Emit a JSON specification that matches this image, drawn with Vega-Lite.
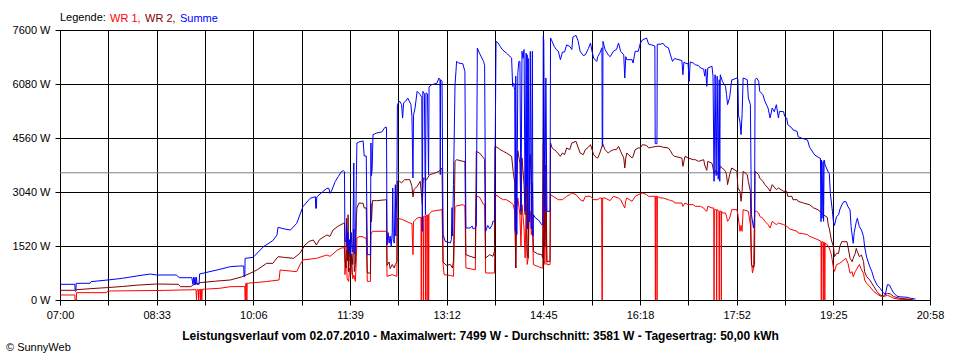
{
"$schema":"https://vega.github.io/schema/vega-lite/v6.json",
"width":870,"height":270,
"autosize":{"type":"none"},
"padding":{"left":60,"top":30,"right":30,"bottom":60},
"background":"white",
"config":{"view":{"stroke":"black","strokeWidth":1},"font":"Liberation Sans"},
"title":{"text":"© SunnyWeb","orient":"bottom","anchor":"start","frame":"group","dx":-54,"offset":1,"fontSize":11,"fontWeight":"normal","font":"Liberation Sans","color":"black"},
"datasets":{
"avg":[{"t":0,"w":3581},{"t":838,"w":3581}],
"wr1":[{"t":0,"w":141},{"t":14.3,"w":141},{"t":14.5,"w":0},{"t":15.7,"w":0},{"t":16,"w":207},{"t":45,"w":207},{"t":46,"w":253},{"t":100,"w":270},{"t":115,"w":281},{"t":131,"w":290},{"t":131.5,"w":0},{"t":132,"w":290},{"t":133.3,"w":290},{"t":133.6,"w":0},{"t":134,"w":290},{"t":135,"w":300},{"t":135.3,"w":0},{"t":135.6,"w":300},{"t":136.3,"w":300},{"t":136.6,"w":0},{"t":137,"w":300},{"t":154,"w":330},{"t":164,"w":375},{"t":178,"w":380},{"t":178.3,"w":0},{"t":178.6,"w":0},{"t":178.9,"w":470},{"t":179.7,"w":470},{"t":180,"w":0},{"t":180.3,"w":470},{"t":199,"w":520},{"t":211,"w":563},{"t":212,"w":844},{"t":228,"w":797},{"t":231,"w":985},{"t":234,"w":1126},{"t":247,"w":1173},{"t":257,"w":1267},{"t":260,"w":1229},{"t":263,"w":1300},{"t":267,"w":1400},{"t":271,"w":1464},{"t":274,"w":1470},
{"t":274.5,"w":713},{"t":276,"w":1400},{"t":276.5,"w":600},{"t":278,"w":525},{"t":279,"w":900},{"t":280,"w":713},{"t":281,"w":1200},{"t":282,"w":600},{"t":283,"w":700},{"t":284.5,"w":525},{"t":285.5,"w":1200},{"t":286,"w":1745},{"t":288,"w":1783},{"t":292,"w":1783},{"t":293,"w":1745},{"t":295,"w":1745},{"t":296,"w":525},{"t":299,"w":525},{"t":299.5,"w":1850},{"t":301,"w":1933},{"t":313,"w":1933},{"t":314.5,"w":1933},{"t":315,"w":666},{"t":320,"w":713},{"t":324.5,"w":666},{"t":325,"w":2308},{"t":330,"w":2262},{"t":337,"w":2168},{"t":339,"w":2150},{"t":340,"w":1276},{"t":340.5,"w":2200},{"t":344,"w":2308},{"t":347.7,"w":2330},{"t":348,"w":0},{"t":348.3,"w":2330},{"t":349.7,"w":2350},{"t":350,"w":0},{"t":350.3,"w":2350},{"t":351.7,"w":2370},{"t":352,"w":0},{"t":352.3,"w":2370},{"t":353.3,"w":2390},{"t":353.6,"w":0},{"t":353.9,"w":2390},{"t":354.8,"w":2402},{"t":355.1,"w":0},{"t":355.4,"w":2402},{"t":358,"w":2496},{"t":368,"w":2543},{"t":369,"w":994},{"t":370,"w":713},{"t":376,"w":690},{"t":379,"w":666},{"t":380.5,"w":2600},{"t":382,"w":2650},{"t":388,"w":2684},{"t":390,"w":2650},{"t":391,"w":901},{"t":395,"w":880},{"t":400,"w":850},{"t":401,"w":2918},{"t":404,"w":2900},{"t":408,"w":2683},{"t":409,"w":2683},{"t":410,"w":760},{"t":418.5,"w":760},{"t":419,"w":2965},{"t":422,"w":2918},
{"t":424,"w":2871},{"t":427,"w":2824},{"t":430,"w":2824},{"t":435,"w":2730},{"t":436.5,"w":2684},{"t":438,"w":2500},{"t":439,"w":901},{"t":440,"w":2600},{"t":441,"w":2871},{"t":443,"w":2402},{"t":444,"w":1500},{"t":445,"w":2684},{"t":447,"w":2027},{"t":448,"w":1182},{"t":449,"w":2700},{"t":450,"w":1000},{"t":451,"w":1182},{"t":452,"w":2500},{"t":453,"w":2500},{"t":454,"w":1839},{"t":455,"w":2100},{"t":456,"w":995},{"t":460,"w":950},{"t":464,"w":901},{"t":465,"w":901},{"t":465.5,"w":2965},{"t":466,"w":2700},{"t":467,"w":1000},{"t":468,"w":2600},{"t":469,"w":995},{"t":472,"w":995},{"t":472.5,"w":2965},{"t":475,"w":2918},{"t":480,"w":2824},{"t":484,"w":2824},{"t":486,"w":2871},{"t":488,"w":2918},{"t":491,"w":2965},{"t":493,"w":3012},{"t":497,"w":2965},{"t":499,"w":2900},{"t":501,"w":2824},{"t":504,"w":2778},{"t":506,"w":2918},{"t":511,"w":2918},{"t":514,"w":2824},{"t":518,"w":2824},{"t":520,"w":2871},{"t":521.7,"w":2871},{"t":522,"w":0},{"t":522.4,"w":0},{"t":522.7,"w":2871},{"t":525,"w":2871},{"t":528,"w":2824},{"t":530,"w":2800},{"t":533,"w":2918},{"t":538,"w":2871},{"t":540,"w":2824},{"t":544,"w":2590},{"t":545,"w":2800},{"t":546,"w":2871},{"t":551,"w":2778},{"t":552,"w":2824},{"t":554,"w":2918},{"t":557,"w":2965},{"t":561,"w":3012},{"t":565,"w":2965},{"t":567,"w":2918},{"t":573.2,"w":2918},{"t":573.5,"w":0},{"t":573.8,"w":2918},{"t":574.8,"w":2918},{"t":575.1,"w":0},{"t":575.4,"w":2918},{"t":578,"w":2871},{"t":581,"w":2871},{"t":586,"w":2824},{"t":588,"w":2800},
{"t":591,"w":2778},{"t":592,"w":2730},{"t":599,"w":2730},{"t":600,"w":2637},{"t":602,"w":2730},{"t":605,"w":2684},{"t":610,"w":2684},{"t":612,"w":2637},{"t":617,"w":2637},{"t":620,"w":2590},{"t":621,"w":2543},{"t":623,"w":2496},{"t":624,"w":2637},{"t":628,"w":2590},{"t":629.7,"w":2590},{"t":630,"w":0},{"t":630.3,"w":2543},{"t":632.2,"w":2543},{"t":632.5,"w":0},{"t":632.8,"w":2543},{"t":634.7,"w":2500},{"t":635,"w":0},{"t":635.3,"w":2500},{"t":636.7,"w":2500},{"t":637,"w":0},{"t":637.3,"w":2496},{"t":638,"w":2449},{"t":641,"w":2449},{"t":642,"w":2355},{"t":643,"w":2214},{"t":645,"w":2300},{"t":647,"w":2543},{"t":652,"w":2543},{"t":653,"w":2400},{"t":655,"w":1933},{"t":656,"w":2100},{"t":657,"w":1933},{"t":658,"w":2543},{"t":663,"w":2496},{"t":665,"w":2121},{"t":666,"w":1088},{"t":667,"w":760},{"t":668,"w":900},{"t":669,"w":2496},{"t":671,"w":2496},{"t":673,"w":2449},{"t":674,"w":2355},{"t":677,"w":2300},{"t":679,"w":2214},{"t":682,"w":2121},{"t":684,"w":2027},{"t":686,"w":2214},{"t":690,"w":2121},{"t":692,"w":2168},{"t":697,"w":2121},{"t":700,"w":2074},{"t":703,"w":2000},{"t":710,"w":1933},{"t":711,"w":1886},{"t":716,"w":1865},{"t":720,"w":1839},{"t":722,"w":1792},{"t":726,"w":1745},{"t":730,"w":1698},{"t":733,"w":1651},{"t":733.3,"w":0},{"t":733.6,"w":1640},{"t":734.9,"w":1640},{"t":735.2,"w":0},{"t":735.5,"w":1620},{"t":736.4,"w":1620},{"t":736.7,"w":0},{"t":737,"w":1600},{"t":739,"w":1558},{"t":741,"w":1464},{"t":743,"w":1276},{"t":745,"w":901},{"t":746,"w":807},{"t":748,"w":995},{"t":751,"w":1032},{"t":753,"w":1079},{"t":755,"w":1126},{"t":757,"w":1173},{"t":759,"w":1032},{"t":761,"w":751},{"t":763,"w":797},{"t":764,"w":657},{"t":766,"w":800},{"t":767,"w":850},{"t":770,"w":1000},{"t":772,"w":850},{"t":774,"w":751},{"t":775,"w":563},{"t":777,"w":469},{"t":780,"w":375},{"t":784,"w":235},{"t":787,"w":169},{"t":790,"w":113},{"t":793,"w":94},{"t":797,"w":131},{"t":800,"w":94},{"t":803,"w":47},{"t":809,"w":19},{"t":819,"w":10},{"t":822,"w":0}],
"wr2":[{"t":0,"w":273},{"t":14,"w":273},{"t":15,"w":240},{"t":16,"w":290},{"t":30,"w":320},{"t":46,"w":350},{"t":60,"w":380},{"t":75,"w":420},{"t":93,"w":450},{"t":114,"w":442},{"t":116,"w":375},{"t":126,"w":375},{"t":128,"w":420},{"t":135,"w":488},{"t":150,"w":530},{"t":164,"w":563},{"t":175,"w":650},{"t":183,"w":750},{"t":190,"w":850},{"t":199,"w":1032},{"t":205,"w":1032},{"t":210,"w":1220},{"t":216,"w":1200},{"t":225,"w":1173},{"t":231,"w":1313},{"t":236,"w":1550},{"t":240,"w":1650},{"t":244,"w":1689},{"t":247,"w":1548},{"t":250,"w":1700},{"t":257,"w":1830},{"t":260,"w":1792},{"t":263,"w":1970},{"t":268,"w":2080},{"t":273,"w":2158},{"t":274,"w":2168},
{"t":274.5,"w":1182},{"t":275.5,"w":901},{"t":276,"w":2300},{"t":277,"w":1100},{"t":277.5,"w":2400},{"t":278,"w":800},{"t":279,"w":1500},{"t":280,"w":713},{"t":281,"w":1300},{"t":282,"w":1000},{"t":283,"w":2000},{"t":283.5,"w":800},{"t":284.5,"w":1000},{"t":285.5,"w":2300},{"t":286,"w":2590},{"t":288,"w":2730},{"t":292,"w":2720},{"t":293,"w":2590},{"t":295,"w":2590},{"t":296,"w":760},{"t":299,"w":760},{"t":299.5,"w":2720},{"t":300,"w":2200},{"t":301,"w":2796},{"t":305,"w":2796},{"t":313,"w":2820},{"t":314.5,"w":2820},{"t":315,"w":976},{"t":317,"w":1070},{"t":318,"w":882},{"t":320,"w":1000},{"t":322,"w":900},{"t":323,"w":1000},{"t":324.5,"w":1070},{"t":325,"w":3341},{"t":327,"w":3341},{"t":329,"w":3300},{"t":332,"w":3387},{"t":337,"w":3387},{"t":339,"w":3200},{"t":340,"w":2900},{"t":341,"w":3107},{"t":344,"w":3200},{"t":347,"w":3341},{"t":349,"w":2700},{"t":350,"w":3434},{"t":353,"w":3380},{"t":356,"w":3530},{"t":360,"w":3560},{"t":365,"w":3622},{"t":368,"w":3715},{"t":369,"w":1070},{"t":372,"w":976},{"t":376,"w":1000},{"t":378,"w":900},{"t":379,"w":1100},{"t":380.5,"w":3903},{"t":382,"w":3950},{"t":388,"w":3903},{"t":390,"w":3903},{"t":391,"w":1276},{"t":395,"w":1230},{"t":400,"w":1182},{"t":401,"w":4185},{"t":404,"w":4138},{"t":408,"w":4000},{"t":409,"w":3950},{"t":410,"w":1182},{"t":414,"w":1276},{"t":417,"w":1230},{"t":418.5,"w":1370},{"t":419,"w":4326},{"t":422,"w":4279},
{"t":424,"w":4232},{"t":427,"w":4185},{"t":430,"w":4138},{"t":435,"w":4044},{"t":436.5,"w":3622},{"t":438,"w":3300},{"t":439,"w":901},{"t":440,"w":3500},{"t":441,"w":4200},{"t":443,"w":3850},{"t":444,"w":2400},{"t":445,"w":4000},{"t":447,"w":3250},{"t":448,"w":2400},{"t":449,"w":3900},{"t":450,"w":1300},{"t":451,"w":1182},{"t":452,"w":3900},{"t":453,"w":4100},{"t":454,"w":3247},{"t":455,"w":3300},{"t":456,"w":1370},{"t":460,"w":1300},{"t":464,"w":1276},{"t":465,"w":1182},{"t":465.5,"w":4373},{"t":466,"w":3900},{"t":467,"w":1500},{"t":468,"w":3800},{"t":469,"w":1088},{"t":472,"w":1088},{"t":472.5,"w":4420},{"t":474,"w":4279},{"t":478,"w":4185},{"t":482,"w":4044},{"t":484,"w":4138},{"t":486,"w":4091},{"t":488,"w":4279},{"t":491,"w":4232},{"t":493,"w":4420},{"t":497,"w":4467},{"t":499,"w":4300},{"t":501,"w":4138},{"t":504,"w":4091},{"t":506,"w":4232},{"t":509,"w":4300},{"t":511,"w":4373},{"t":514,"w":4091},{"t":517,"w":3997},{"t":518,"w":4000},{"t":520,"w":4138},{"t":522,"w":4326},{"t":523,"w":4373},{"t":525,"w":4232},{"t":528,"w":4138},{"t":530,"w":4185},{"t":533,"w":4232},{"t":536,"w":4232},{"t":538,"w":4326},{"t":540,"w":4185},{"t":543,"w":4000},{"t":544,"w":3716},{"t":545,"w":4000},{"t":546,"w":4138},{"t":551,"w":3997},{"t":552,"w":4044},{"t":554,"w":4232},{"t":557,"w":4279},{"t":559,"w":4279},{"t":561,"w":4373},{"t":565,"w":4350},{"t":567,"w":4279},{"t":570,"w":4300},{"t":575,"w":4326},{"t":578,"w":4326},{"t":581,"w":4300},{"t":586,"w":4279},{"t":588,"w":4200},{"t":590,"w":4091},{"t":592,"w":4044},{"t":599,"w":3997},{"t":600,"w":3762},{"t":602,"w":4044},{"t":605,"w":3997},{"t":610,"w":3950},{"t":612,"w":3950},{"t":615,"w":3903},{"t":620,"w":3950},{"t":621,"w":3800},{"t":623,"w":3650},{"t":624,"w":3903},{"t":628,"w":3850},{"t":629,"w":3716},{"t":630,"w":3550},{"t":632,"w":3650},{"t":634,"w":3528},{"t":636,"w":3762},{"t":638,"w":3716},{"t":641,"w":3622},{"t":642,"w":3528},{"t":643,"w":3247},{"t":645,"w":3528},{"t":647,"w":3716},{"t":652,"w":3622},{"t":653,"w":3153},{"t":655,"w":3059},{"t":656,"w":2778},{"t":657,"w":3059},{"t":658,"w":3622},{"t":662,"w":3528},{"t":663,"w":3340},{"t":665,"w":3059},{"t":666,"w":995},{"t":668,"w":901},{"t":669,"w":1000},{"t":669.5,"w":3622},{"t":673,"w":3528},{"t":674,"w":3434},{"t":677,"w":3340},{"t":679,"w":3247},{"t":682,"w":3153},{"t":684,"w":3059},{"t":686,"w":3247},{"t":690,"w":3106},{"t":692,"w":3153},{"t":697,"w":3059},{"t":700,"w":3059},{"t":701,"w":2918},{"t":705,"w":2918},{"t":706,"w":2824},{"t":710,"w":2824},{"t":711,"w":2778},{"t":716,"w":2730},{"t":722,"w":2684},{"t":726,"w":2590},{"t":730,"w":2543},{"t":732,"w":2496},{"t":735,"w":2402},{"t":739,"w":2330},{"t":740,"w":2111},{"t":741,"w":2017},{"t":743,"w":1689},{"t":745,"w":1501},{"t":746,"w":1220},{"t":748,"w":1314},{"t":750,"w":1314},{"t":751,"w":1501},{"t":753,"w":1642},{"t":758,"w":1642},{"t":759,"w":1501},{"t":761,"w":1173},{"t":763,"w":1079},{"t":764,"w":1173},{"t":766,"w":1314},{"t":767,"w":1454},{"t":768,"w":1360},{"t":770,"w":1220},{"t":772,"w":1267},{"t":774,"w":1079},{"t":775,"w":797},{"t":777,"w":657},{"t":780,"w":563},{"t":784,"w":375},{"t":787,"w":235},{"t":790,"w":141},{"t":793,"w":113},{"t":797,"w":188},{"t":800,"w":169},{"t":803,"w":94},{"t":809,"w":47},{"t":819,"w":19},{"t":822,"w":0}],
"sum":[{"t":0,"w":442},{"t":14.3,"w":442},{"t":14.5,"w":281},{"t":15.4,"w":281},{"t":15.6,"w":470},{"t":29,"w":470},{"t":30,"w":516},{"t":48,"w":570},{"t":60,"w":610},{"t":75,"w":680},{"t":87,"w":732},{"t":93,"w":704},{"t":112,"w":704},{"t":115,"w":628},{"t":127,"w":628},{"t":128,"w":442},{"t":128.6,"w":640},{"t":129.3,"w":442},{"t":130,"w":640},{"t":130.7,"w":442},{"t":131.4,"w":640},{"t":132,"w":442},{"t":134,"w":442},{"t":134.5,"w":732},{"t":154,"w":864},{"t":164,"w":938},{"t":173,"w":957},{"t":177,"w":957},{"t":177.3,"w":657},{"t":178,"w":657},{"t":178.3,"w":1173},{"t":186,"w":1201},{"t":196,"w":1501},{"t":205,"w":1670},{"t":209,"w":1830},{"t":210,"w":2046},{"t":216,"w":2000},{"t":222,"w":1970},{"t":228,"w":2158},{"t":234,"w":2627},{"t":241,"w":2862},{"t":246,"w":2908},{"t":246.3,"w":2580},{"t":247,"w":2580},{"t":247.3,"w":2900},{"t":253,"w":3049},{"t":257,"w":3143},{"t":259,"w":3143},{"t":260,"w":3002},{"t":262,"w":3100},{"t":265,"w":3331},{"t":268,"w":3471},{"t":271,"w":3612},{"t":273,"w":3640},{"t":274,"w":3612},
{"t":274.5,"w":1651},{"t":275.5,"w":1650},{"t":276,"w":2100},{"t":276.5,"w":1500},{"t":277.5,"w":1900},{"t":278,"w":1300},{"t":279,"w":1700},{"t":280,"w":1280},{"t":280.5,"w":1900},{"t":281.5,"w":1350},{"t":282,"w":1400},{"t":283,"w":3857},{"t":283.5,"w":1300},{"t":284.5,"w":1400},{"t":285.5,"w":3500},{"t":286,"w":4419},{"t":288,"w":4450},{"t":291,"w":4470},{"t":292,"w":4480},{"t":293,"w":4053},{"t":295,"w":4053},{"t":296,"w":1276},{"t":299,"w":1276},{"t":299.5,"w":4420},{"t":300,"w":3500},{"t":300.7,"w":3700},{"t":301.5,"w":4654},{"t":305,"w":4700},{"t":310,"w":4730},{"t":313,"w":4860},{"t":314.5,"w":4860},{"t":315,"w":1557},{"t":316,"w":1900},{"t":317,"w":1600},{"t":318,"w":1800},{"t":319,"w":1500},{"t":320,"w":1900},{"t":320.5,"w":3153},{"t":321,"w":1700},{"t":322,"w":1600},{"t":323,"w":3246},{"t":323.5,"w":1800},{"t":324.5,"w":3246},{"t":325,"w":5498},{"t":327,"w":5600},{"t":329,"w":5500},{"t":330,"w":5120},{"t":331,"w":5550},{"t":333,"w":5600},{"t":335,"w":5685},{"t":338,"w":5500},{"t":339,"w":5170},{"t":340,"w":3434},{"t":340.5,"w":5200},{"t":342,"w":5404},{"t":344,"w":5873},{"t":347,"w":5780},{"t":348.5,"w":5700},{"t":349,"w":1933},{"t":349.5,"w":5873},{"t":351,"w":5800},{"t":352,"w":2402},{"t":352.5,"w":5830},{"t":354,"w":5800},{"t":355,"w":3528},{"t":355.5,"w":5998},{"t":358,"w":6060},{"t":363,"w":6100},{"t":365,"w":6248},{"t":366,"w":6200},{"t":366.3,"w":3528},{"t":366.6,"w":6200},{"t":368,"w":6154},{"t":369,"w":1839},{"t":371,"w":1651},{"t":376,"w":1605},{"t":377,"w":1700},{"t":377.6,"w":2600},{"t":378,"w":1800},{"t":379,"w":3246},{"t":380.5,"w":6060},{"t":381.4,"w":6435},{"t":382,"w":6716},{"t":384,"w":6670},{"t":388,"w":6650},{"t":390,"w":6435},{"t":391,"w":2027},{"t":395,"w":2027},{"t":397,"w":2080},{"t":398,"w":2000},{"t":400,"w":2030},{"t":401,"w":2100},{"t":402,"w":7093},{"t":404,"w":6950},{"t":408,"w":6716},{"t":409,"w":6600},{"t":410,"w":1933},{"t":412,"w":2100},{"t":414,"w":2000},{"t":416,"w":2100},{"t":417,"w":2215},{"t":418.5,"w":2215},{"t":419,"w":3621},{"t":420,"w":7281},{"t":422,"w":7234},{"t":424,"w":7140},{"t":426,"w":7050},{"t":430,"w":6950},{"t":435,"w":6810},
{"t":436,"w":6013},{"t":437,"w":6100},{"t":438,"w":5900},{"t":438.5,"w":1933},{"t":439,"w":6300},{"t":440,"w":1839},{"t":441,"w":6400},{"t":442,"w":6716},{"t":443,"w":6716},{"t":444,"w":2500},{"t":445,"w":7000},{"t":446,"w":6800},{"t":447,"w":7050},{"t":448,"w":2500},{"t":449,"w":6950},{"t":449.5,"w":3200},{"t":450,"w":6900},{"t":450.5,"w":2000},{"t":451,"w":6800},{"t":452,"w":2200},{"t":453,"w":7000},{"t":454,"w":2000},{"t":455,"w":7000},{"t":455.5,"w":1800},{"t":456,"w":2402},{"t":458,"w":2308},{"t":461,"w":2250},{"t":464,"w":2120},{"t":465,"w":2120},{"t":465.5,"w":7422},{"t":466,"w":7300},{"t":467,"w":2500},{"t":468,"w":6250},{"t":469,"w":2496},{"t":472,"w":2496},{"t":472.5,"w":7375},{"t":474,"w":7281},{"t":476,"w":7140},{"t":478,"w":7050},{"t":480,"w":7000},{"t":482,"w":6765},{"t":484,"w":6980},{"t":486,"w":6980},{"t":488,"w":7180},{"t":491,"w":7140},{"t":493,"w":7050},{"t":494,"w":7400},{"t":497,"w":7450},{"t":499,"w":7300},{"t":501,"w":7000},{"t":504,"w":6880},{"t":506,"w":6900},{"t":509,"w":7080},{"t":511,"w":7234},{"t":512.5,"w":7000},{"t":514,"w":6810},{"t":517,"w":6716},{"t":518,"w":6850},{"t":520,"w":6950},{"t":522,"w":7100},{"t":522.3,"w":4326},{"t":522.7,"w":4326},{"t":523,"w":7281},{"t":525,"w":7050},{"t":528,"w":6900},{"t":530,"w":6850},{"t":533,"w":7000},{"t":536,"w":7050},{"t":538,"w":7234},{"t":540,"w":7000},{"t":543,"w":6900},{"t":544,"w":6248},{"t":545,"w":6850},{"t":546,"w":6765},{"t":551,"w":6765},{"t":552,"w":6670},{"t":554,"w":7000},{"t":557,"w":7000},{"t":559,"w":7234},{"t":561,"w":7320},{"t":565,"w":7375},{"t":567,"w":7200},{"t":570,"w":7180},{"t":573,"w":7150},{"t":573.3,"w":4400},{"t":575,"w":4400},{"t":575.3,"w":7200},{"t":578,"w":7200},{"t":581,"w":7220},{"t":583,"w":7140},{"t":586,"w":7100},{"t":588,"w":6900},{"t":590,"w":6716},{"t":592,"w":6800},{"t":594,"w":6780},{"t":599,"w":6740},{"t":600,"w":6341},{"t":601,"w":6700},{"t":602,"w":6670},{"t":605,"w":6650},{"t":606,"w":6154},{"t":607,"w":6700},{"t":610,"w":6670},{"t":612,"w":6620},{"t":615,"w":6600},{"t":617,"w":6530},{"t":620,"w":6500},{"t":621,"w":6300},{"t":622,"w":6500},{"t":623,"w":6013},{"t":624,"w":6530},{"t":628,"w":6580},{"t":629,"w":6300},{"t":630,"w":3340},{"t":631,"w":6341},{"t":632,"w":3500},{"t":633,"w":6300},{"t":634,"w":3400},{"t":635,"w":6200},{"t":635.5,"w":3340},{"t":636,"w":6341},{"t":638,"w":6154},{"t":641,"w":6013},{"t":642,"w":5780},{"t":643,"w":5500},{"t":645,"w":5700},{"t":647,"w":6201},{"t":648,"w":6200},{"t":652,"w":6250},{"t":653,"w":6200},{"t":653.5,"w":5217},{"t":655,"w":5000},{"t":656,"w":4654},{"t":657,"w":5217},{"t":658,"w":6250},{"t":662,"w":6201},{"t":663,"w":5686},{"t":665,"w":5500},{"t":666,"w":2402},{"t":668,"w":2027},{"t":669,"w":2300},{"t":669.5,"w":6200},{"t":671,"w":6250},{"t":673,"w":6154},{"t":674,"w":5873},{"t":677,"w":5780},{"t":679,"w":5592},{"t":682,"w":5404},{"t":684,"w":5123},{"t":686,"w":5404},{"t":688,"w":5300},{"t":690,"w":5498},{"t":692,"w":5123},{"t":693,"w":5310},{"t":697,"w":5300},{"t":698,"w":5170},{"t":700,"w":5120},{"t":701,"w":4935},{"t":705,"w":4840},{"t":706,"w":4790},{"t":710,"w":4745},{"t":711,"w":4600},{"t":714,"w":4560},{"t":720,"w":4504},{"t":722,"w":4300},{"t":727,"w":4080},{"t":732,"w":3990},{"t":732.5,"w":3990},{"t":733,"w":2205},{"t":733.5,"w":3940},{"t":734,"w":2300},{"t":735,"w":3900},{"t":735.5,"w":2215},{"t":736,"w":3940},{"t":737,"w":3800},{"t":740,"w":3600},{"t":741,"w":3565},{"t":742,"w":3002},{"t":744,"w":2500},{"t":745,"w":2205},{"t":746,"w":2100},{"t":748,"w":2350},{"t":750,"w":2400},{"t":751,"w":2533},{"t":753,"w":2674},{"t":755,"w":2770},{"t":757,"w":2768},{"t":759,"w":2627},{"t":761,"w":2533},{"t":762,"w":2064},{"t":764,"w":1595},{"t":765,"w":1900},{"t":767,"w":2200},{"t":768,"w":2300},{"t":770,"w":2064},{"t":772,"w":1970},{"t":774,"w":1783},{"t":775,"w":1501},{"t":777,"w":1200},{"t":780,"w":938},{"t":782,"w":800},{"t":784,"w":600},{"t":787,"w":420},{"t":790,"w":330},{"t":793,"w":200},{"t":795,"w":160},{"t":797,"w":431},{"t":799,"w":420},{"t":801,"w":300},{"t":803,"w":200},{"t":806,"w":110},{"t":809,"w":90},{"t":816,"w":75},{"t":819,"w":50},{"t":824,"w":28}]
},
"encoding":{
"x":{"field":"t","type":"quantitative","scale":{"domain":[0,838],"nice":false,"zero":false},
"axis":{"values":[0,46.5556,93.1111,139.6667,186.2222,232.7778,279.3333,325.8889,372.4444,419,465.5556,512.1111,558.6667,605.2222,651.7778,698.3333,744.8889,791.4444,838],
"labelExpr":"['07:00','','08:33','','10:06','','11:39','','13:12','','14:45','','16:18','','17:52','','19:25','','20:58'][round(datum.value/46.5556)]",
"grid":true,"gridColor":"black","gridOpacity":1,"gridWidth":1,"tickColor":"black","tickSize":5,"domainColor":"black","labelColor":"black","labelFont":"Liberation Sans","labelFontSize":11,"labelPadding":4,"labelFlush":false,"labelOverlap":false,
"title":"Leistungsverlauf vom 02.07.2010 - Maximalwert: 7499 W - Durchschnitt: 3581 W - Tagesertrag: 50,00 kWh","titleFont":"Liberation Sans","titleFontWeight":"bold","titleFontSize":12,"titleColor":"black","titlePadding":10,"titleX":420,"titleAlign":"center"}},
"y":{"field":"w","type":"quantitative","scale":{"domain":[0,7600],"nice":false},
"axis":{"values":[0,1520,3040,4560,6080,7600],"labelExpr":"datum.value + ' W'","grid":true,"gridColor":"black","gridOpacity":1,"gridWidth":1,"tickColor":"black","tickSize":5,"domainColor":"black","labelColor":"black","labelFont":"Liberation Sans","labelFontSize":11,"labelPadding":5,"labelFlush":false,"labelOverlap":false,"title":null}}
},
"layer":[
{"data":{"name":"avg"},"mark":{"type":"line","color":"#808080","strokeWidth":1},"encoding":{}},
{"data":{"name":"wr1"},"mark":{"type":"line","strokeWidth":1},"encoding":{"color":{"datum":"WR 1","type":"nominal","scale":{"domain":["WR 1","WR 2","Summe"],"range":["#ff0000","#800000","#0000ff"]},
"legend":{"title":"Legende:","orient":"top","direction":"horizontal","titleOrient":"left","symbolSize":0.01,"symbolStrokeWidth":0,"symbolOpacity":0,"labelOffset":-10,"columnPadding":3,"labelFont":"Liberation Sans","labelFontSize":11,"titleFont":"Liberation Sans","titleFontSize":11,"titleFontWeight":"normal","titleColor":"black","titlePadding":3,"offset":6,"labelExpr":"datum.label == 'Summe' ? datum.label : datum.label + ','","encode":{"labels":{"update":{"fill":{"scale":"color","field":"value"}}}}}}}},
{"data":{"name":"wr2"},"mark":{"type":"line","strokeWidth":1},"encoding":{"color":{"datum":"WR 2","type":"nominal"}}},
{"data":{"name":"sum"},"mark":{"type":"line","strokeWidth":1},"encoding":{"color":{"datum":"Summe","type":"nominal"}}}
]
}
